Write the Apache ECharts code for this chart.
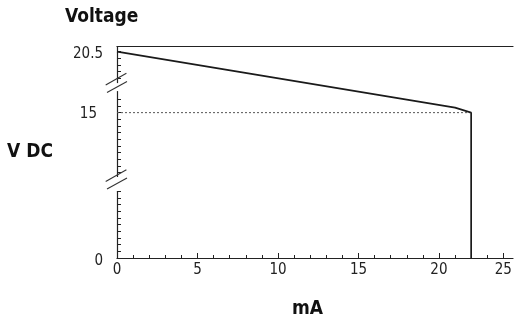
<!DOCTYPE html>
<html><head><meta charset="utf-8">
<script src="https://cdn.jsdelivr.net/npm/echarts@6/dist/echarts.min.js"></script>
<style>html,body{margin:0;padding:0;background:#fff}#c{width:514px;height:320px}</style>
</head><body><div id="c"></div>
<script>
// ---- data ----
const currentMA   = [0, 21, 22, 22];
const voltageVDC  = [20.5, 15.45, 15, 0];
const refLineMA   = [0, 22];
const refLineV    = [15, 15];
const xMajorTicks = [0, 5, 10, 15, 20, 24];
const xTickLabels = ['0', '5', '10', '15', '20', '25'];
const xMinorTicks = [0,1,2,3,4,5,6,7,8,9,10,11,12,13,14,15,16,17,18,19,20,21,22,23,24];
const yTicks = [0,0.6,1.2,1.8,2.4,3,3.6,4.2,4.8,5.4,6,
                9.6,10.2,10.8,11.4,12,12.6,13.2,13.8,14.4,15,15.6,16.2,
                18.1,18.7,19.3,19.9,20.5];
const yLabelValues = [0, 15, 20.5];
const yTickLabels  = ['0', '15', '20.5'];
const yBreak = {start: 6.05, end: 9.26, gap: 1.3};
const topBreakValue = 17.3;

const FONT = '"Liberation Sans Narrow", "Arial Narrow", "DejaVu Sans Condensed", sans-serif';
const INK = '#222';
const chart = echarts.init(document.getElementById('c'), null, {renderer: 'canvas'});

const labelMap = {};
yLabelValues.forEach((v, i) => labelMap[v] = yTickLabels[i]);
const xLabelMap = {};
xMajorTicks.forEach((v, i) => xLabelMap[v] = xTickLabels[i]);

chart.setOption({
  animation: false,
  title: {
    text: 'Voltage', left: 65, top: 8, padding: 0,
    textStyle: {fontFamily: FONT, fontWeight: 'bold', fontSize: 19, color: '#111'}
  },
  grid: {left: 117, right: 1, top: 46, bottom: 62, outerBoundsMode: 'none', containLabel: false},
  xAxis: [{
    type: 'value', min: 0, max: 24.6, position: 'bottom',
    name: 'mA', nameLocation: 'middle', nameGap: 42,
    nameTextStyle: {fontFamily: FONT, fontWeight: 'bold', fontSize: 19, color: '#111', padding: [0, 15, 0, 0]},
    axisLine: {lineStyle: {color: INK, width: 1.2}},
    axisTick: {inside: true, length: 5, customValues: xMajorTicks, lineStyle: {color: INK, width: 1}},
    axisLabel: {customValues: xMajorTicks, formatter: v => xLabelMap[v] !== undefined ? xLabelMap[v] : '',
      margin: 5, fontFamily: FONT, fontSize: 15, color: '#222'},
    splitLine: {show: false}
  }, {
    type: 'value', min: 0, max: 24.6, position: 'top',
    axisLine: {lineStyle: {color: INK, width: 1.2}},
    axisTick: {show: false}, axisLabel: {show: false}, splitLine: {show: false}
  }, {
    type: 'value', min: 0, max: 24.6, position: 'bottom',
    axisLine: {show: false},
    axisTick: {inside: true, length: 3, customValues: xMinorTicks, lineStyle: {color: INK, width: 1}},
    axisLabel: {show: false}, splitLine: {show: false}
  }],
  yAxis: {
    type: 'value', min: 0, max: 21,
    breaks: [yBreak],
    breakArea: {show: false},
    name: 'V DC', nameLocation: 'middle', nameRotate: 0, nameGap: 64,
    nameTextStyle: {fontFamily: FONT, fontWeight: 'bold', fontSize: 19, color: '#111', align: 'right', padding: [0,0,6,0]},
    axisLine: {lineStyle: {color: INK, width: 1.2}},
    axisTick: {inside: true, length: 4, customValues: yTicks, lineStyle: {color: INK, width: 1}},
    axisLabel: {customValues: yLabelValues,
      formatter: v => v === 15 ? '{s|' + labelMap[v] + '}' : '{n|' + (labelMap[v] || '') + '}',
      margin: 14, fontFamily: FONT, fontSize: 15, color: '#222',
      rich: {
        n: {fontFamily: FONT, fontSize: 15, color: '#222', padding: [6, 0, 0, 0]},
        s: {fontFamily: FONT, fontSize: 15, color: '#222', padding: [3, 6, 0, 0]}
      }},
    splitLine: {show: false}
  },
  series: [{
    type: 'line', xAxisIndex: 0, yAxisIndex: 0, symbol: 'none', z: 1,
    data: refLineMA.map((x, i) => [x, refLineV[i]]),
    lineStyle: {color: '#555', width: 1, type: [2, 2]}
  }, {
    type: 'line', xAxisIndex: 0, yAxisIndex: 0, symbol: 'none', z: 3,
    data: currentMA.map((x, i) => [x, voltageVDC[i]]),
    lineStyle: {color: '#1a1a1a', width: 1.7}
  }]
});

function breakMark(val) {
  const x = chart.convertToPixel({xAxisIndex: 0}, 0);
  const y = chart.convertToPixel({yAxisIndex: 0}, val);
  const st = {stroke: '#333', lineWidth: 1.1};
  return [
    {type: 'rect', z: 100, shape: {x: x - 2, y: y - 4, width: 4, height: 8}, style: {fill: '#fff'}},
    {type: 'line', z: 101, shape: {x1: x - 11.3, y1: y + 1.9 - 4, x2: x + 9.4, y2: y - 9.8 - 4}, style: st},
    {type: 'line', z: 101, shape: {x1: x - 10, y1: y + 9.5 - 4, x2: x + 10, y2: y - 1.5 - 4}, style: st}
  ];
}
chart.setOption({
  graphic: [...breakMark((yBreak.start + yBreak.end) / 2), ...breakMark(topBreakValue)]
});
</script>
</body></html>
